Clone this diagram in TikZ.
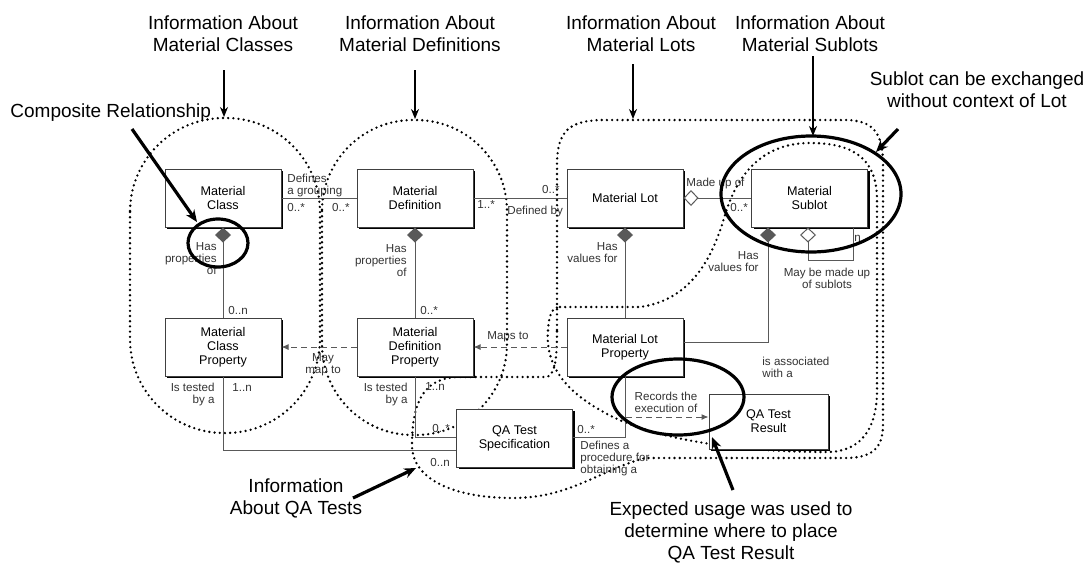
\documentclass[tikz,border=0pt]{standalone}
\usepackage{fontspec}
\setmainfont{Liberation Sans}
\usetikzlibrary{arrows.meta,shadows}

\tikzset{
  cls/.style={draw=black!75, fill=white, line width=0.5pt,
    minimum width=58pt, minimum height=29pt, align=center, inner sep=1pt,
    font=\fontsize{6.3}{7}\selectfont,
    drop shadow={shadow xshift=1pt, shadow yshift=-1pt, fill=black, opacity=1}},
  lbl/.style={inner sep=0pt, font=\fontsize{5.8}{6}\selectfont, text=black!80},
  big/.style={inner sep=0pt, align=center, font=\fontsize{9.5}{11}\selectfont},
  region/.style={line width=1.3pt, dash pattern=on 0pt off 2.6pt, line cap=round},
  ring/.style={line width=1.6pt},
  ptr/.style={line width=1pt, -{Stealth[length=5pt,width=4pt]}},
  bigptr/.style={line width=1.6pt, -{Stealth[length=6pt,width=5pt]}},
  assoc/.style={draw=black!65, line width=0.5pt},
  comp/.style={assoc, {Diamond[length=7.5pt,width=8pt]}-},
  aggr/.style={assoc, {Diamond[open,length=7.5pt,width=8pt,fill=white]}-},
  maplink/.style={assoc, dash pattern=on 3pt off 2pt, -{Latex[length=3.5pt,width=3pt]}},
}

\begin{document}
\begin{tikzpicture}[x=0.5pt, y=-0.5pt]
  \useasboundingbox (0,0) rectangle (1086,563);

  % dotted areas of information
  \draw[region, rounded corners=47pt] (130,118) rectangle (320,433);
  \draw[region, rounded corners=45.5pt] (322,120) rectangle (507,435);
  \draw[region] (557,330) -- (557,165) .. controls (557,130) and (570,120) .. (605,120)
    -- (845,120) .. controls (875,120) and (883,135) .. (883,165)
    -- (883,425) .. controls (883,450) and (870,458) .. (845,458)
    -- (645,458) .. controls (600,470) and (570,498) .. (513,498)
    .. controls (455,498) and (412,480) .. (412,445)
    .. controls (412,400) and (425,377) .. (460,377)
    -- (545,377) .. controls (555,377) and (557,360) .. (557,330);
  \draw[region] (560,307) -- (640,307) .. controls (690,300) and (712,260) .. (725,215)
    .. controls (740,165) and (770,143) .. (810,143)
    .. controls (855,143) and (877,160) .. (877,200)
    -- (877,390) .. controls (877,430) and (860,452) .. (827,452)
    .. controls (740,452) and (650,440) .. (600,410)
    .. controls (565,390) and (545,365) .. (548,330)
    .. controls (549,315) and (552,307) .. (560,307);

  % classes
  \node[cls] (mc) at (223,198) {Material\\Class};
  \node[cls] (md) at (415,198) {Material\\Definition};
  \node[cls] (ml) at (625,198) {Material Lot};
  \node[cls] (ms) at (809.5,198) {Material\\Sublot};
  \node[cls] (mcp) at (223,347) {Material\\Class\\Property};
  \node[cls] (mdp) at (415,347) {Material\\Definition\\Property};
  \node[cls] (mlp) at (625,347) {Material Lot\\Property};
  \node[cls] (qs) at (514.5,438) {QA Test\\Specification};
  \node[cls, minimum width=59.5pt, minimum height=27.5pt] (qr) at (768.5,421.5) {QA Test\\Result};

  % associations
  \draw[assoc] (mc.east) -- (md.west);
  \draw[assoc] (md.east) -- (ml.west);
  \draw[aggr] (ml.east) -- (ms.west);
  \draw[comp] (mc.south) -- (mcp.north);
  \draw[comp] (md.south) -- (mdp.north);
  \draw[comp] (ml.south) -- (mlp.north);
  \draw[comp] ([xshift=-20.75pt]ms.south) |- ([yshift=2.5pt]mlp.east);
  \draw[aggr] ([xshift=-0.75pt]ms.south) -- ++(0,33) -| ([xshift=-7.5pt]ms.south east);
  \draw[maplink] (mdp.west) -- (mcp.east);
  \draw[maplink] (mlp.west) -- (mdp.east);
  \draw[assoc] (mcp.south) |- ([yshift=-6pt]qs.west);
  \draw[assoc] (mdp.south) |- ([yshift=0.5pt]qs.west);
  \draw[assoc] ([yshift=0.5pt]qs.east) -| (mlp.south);
  \coordinate (rx) at (626,417);
  \draw[maplink] (rx) -- (qr.west |- rx);

  % role names and multiplicities
  \node[lbl, anchor=west, align=left] (dg) at (287,185) {Defines\\a grouping};
  \node[lbl, anchor=west] (m1) at (287,207) {0..*};
  \node[lbl, anchor=east] (m2) at (350,207) {0..*};
  \node[lbl, anchor=east, align=right] (hp1) at (217,259) {Has\\properties\\of};
  \node[lbl, anchor=east, align=right] (hp2) at (407,261) {Has\\properties\\of};
  \node[lbl, anchor=west] (m3) at (228,310) {0..n};
  \node[lbl, anchor=west] (m4) at (420,310) {0..*};
  \node[lbl, anchor=west] (m5) at (477,205) {1..*};
  \node[lbl, anchor=east] (m6) at (560,190) {0..*};
  \node[lbl, anchor=west] (dby) at (507,211) {Defined by};
  \node[lbl, anchor=east, align=right] (hv1) at (618,253) {Has\\values for};
  \node[lbl, anchor=west] (mu) at (686,183) {Made up of};
  \node[lbl, anchor=west] (m7) at (730,207) {0..*};
  \node[lbl, anchor=east, align=right] (hv2) at (759,262) {Has\\values for};
  \node[lbl, align=center] (mbm) at (827,278) {May be made up\\of sublots};
  \node[lbl, anchor=west] (m8) at (854,238) {n};
  \node[lbl, align=center] (mmt) at (323,365) {May\\map to};
  \node[lbl] (mpt) at (508,337) {Maps to};
  \node[lbl, anchor=east, align=right] (it1) at (215,394) {Is tested\\by a};
  \node[lbl, anchor=east, align=right] (it2) at (408,394) {Is tested\\by a};
  \node[lbl, anchor=west] (m9) at (232,388) {1..n};
  \node[lbl, anchor=west] (m10) at (425,386) {1..n};
  \node[lbl, anchor=west] (m11) at (432,428) {0..*};
  \node[lbl, anchor=west] (m12) at (430,462) {0..n};
  \node[lbl, anchor=west] (m13) at (577,429) {0..*};
  \node[lbl, anchor=west, align=left] (dpo) at (580,458) {Defines a\\procedure for\\obtaining a};
  \node[lbl, align=center] (rte) at (666,402) {Records the\\execution of};
  \node[lbl, anchor=west, align=left] (iaw) at (762,367) {is associated\\with a};

  % rings
  \draw[ring] (218,243) ellipse [x radius=15pt, y radius=12pt];
  \draw[ring] (811,194) ellipse [x radius=45pt, y radius=29pt];
  \draw[ring] (678,397) ellipse [x radius=33pt, y radius=19pt];

  % notes
  \node[big] (hA) at (223,34) {Information About\\Material Classes};
  \node[big] (hB) at (420,34) {Information About\\Material Definitions};
  \node[big] (hC) at (641,34) {Information About\\Material Lots};
  \node[big] (hD) at (810,34) {Information About\\Material Sublots};
  \node[big] (hS) at (977,90) {Sublot can be exchanged\\without context of Lot};
  \node[big, anchor=west] (hR) at (10,113) {Composite Relationship};
  \node[big] (hQ) at (296,498) {Information\\About QA Tests};
  \node[big] (hE) at (731,532) {Expected usage was used to\\determine where to place\\QA Test Result};

  \coordinate (tA) at (224,117);
  \coordinate (tB) at (415,119);
  \coordinate (tC) at (633,119);
  \coordinate (tD) at (813,136);
  \draw[ptr] (tA |- 0,70) -- (tA);
  \draw[ptr] (tB |- 0,70) -- (tB);
  \draw[ptr] (tC |- 0,64) -- (tC);
  \draw[ptr] (tD |- 0,56) -- (tD);
  \draw[bigptr] (132,129) -- (197,222);
  \draw[bigptr] (898,129) -- (876,152);
  \draw[bigptr] (733,490) -- (712,437);
  \draw[bigptr] (353,498) -- (416,468);
\end{tikzpicture}
\end{document}
